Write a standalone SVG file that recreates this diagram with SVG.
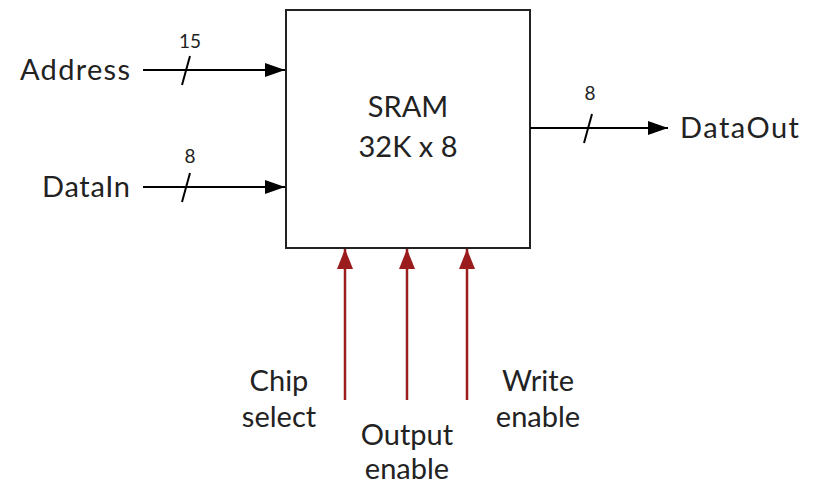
<svg xmlns="http://www.w3.org/2000/svg" width="814" height="484" viewBox="0 0 814 484">
<defs>
<marker id="abk" viewBox="0 0 20 14" markerWidth="20" markerHeight="14" refX="20" refY="7" orient="auto" markerUnits="userSpaceOnUse"><path d="M0,0 L20,7 L0,14 Z" fill="#000"/></marker>
<marker id="ark" viewBox="0 0 20 16" markerWidth="20" markerHeight="16" refX="20" refY="8" orient="auto" markerUnits="userSpaceOnUse"><path d="M0,0 L20,8 L0,16 Z" fill="#9b1c1c"/></marker>
</defs>
<style>
text{font-family:Lato,"Open Sans","Liberation Sans",sans-serif;fill:#222;}
.lbl{font-size:29px;}
.num{font-size:19px;text-anchor:middle;}
.bus{stroke:#000;stroke-width:2;fill:none;}
.ctl{stroke:#9b1c1c;stroke-width:2.5;fill:none;}
.box{fill:#fff;stroke:#222;stroke-width:2;}
.mid{text-anchor:middle;}
</style>
<g id="sram">
<rect class="box" x="286" y="10" width="244" height="238"/>
<text class="lbl mid" x="408" y="117">SRAM</text>
<text class="lbl mid" x="408" y="157">32K x 8</text>
</g>
<g id="address"><text class="lbl" x="20" y="80" textLength="110">Address</text></g>
<g id="datain"><text class="lbl" x="42" y="197" textLength="88">DataIn</text></g>
<g id="dataout"><text class="lbl" x="680" y="138" textLength="119">DataOut</text></g>
<g id="chipselect"><text class="lbl mid" x="279" y="391">Chip</text><text class="lbl mid" x="279" y="427">select</text></g>
<g id="outputenable"><text class="lbl mid" x="407" y="445">Output</text><text class="lbl mid" x="407" y="479">enable</text></g>
<g id="writeenable"><text class="lbl mid" x="538" y="391">Write</text><text class="lbl mid" x="538" y="427">enable</text></g>
<g id="connectors">
<line class="bus" x1="143" y1="70" x2="285" y2="70" marker-end="url(#abk)"/>
<line class="bus" x1="182" y1="85" x2="190" y2="56"/>
<text class="num" x="190" y="48">15</text>
<line class="bus" x1="143" y1="187" x2="285" y2="187" marker-end="url(#abk)"/>
<line class="bus" x1="182" y1="202" x2="190" y2="173"/>
<text class="num" x="190" y="163">8</text>
<line class="bus" x1="530" y1="128" x2="668" y2="128" marker-end="url(#abk)"/>
<line class="bus" x1="584" y1="143" x2="592" y2="114"/>
<text class="num" x="590" y="100">8</text>
<line class="ctl" x1="345" y1="400" x2="345" y2="249" marker-end="url(#ark)"/>
<line class="ctl" x1="407" y1="400" x2="407" y2="249" marker-end="url(#ark)"/>
<line class="ctl" x1="467" y1="400" x2="467" y2="249" marker-end="url(#ark)"/>
</g>
</svg>
